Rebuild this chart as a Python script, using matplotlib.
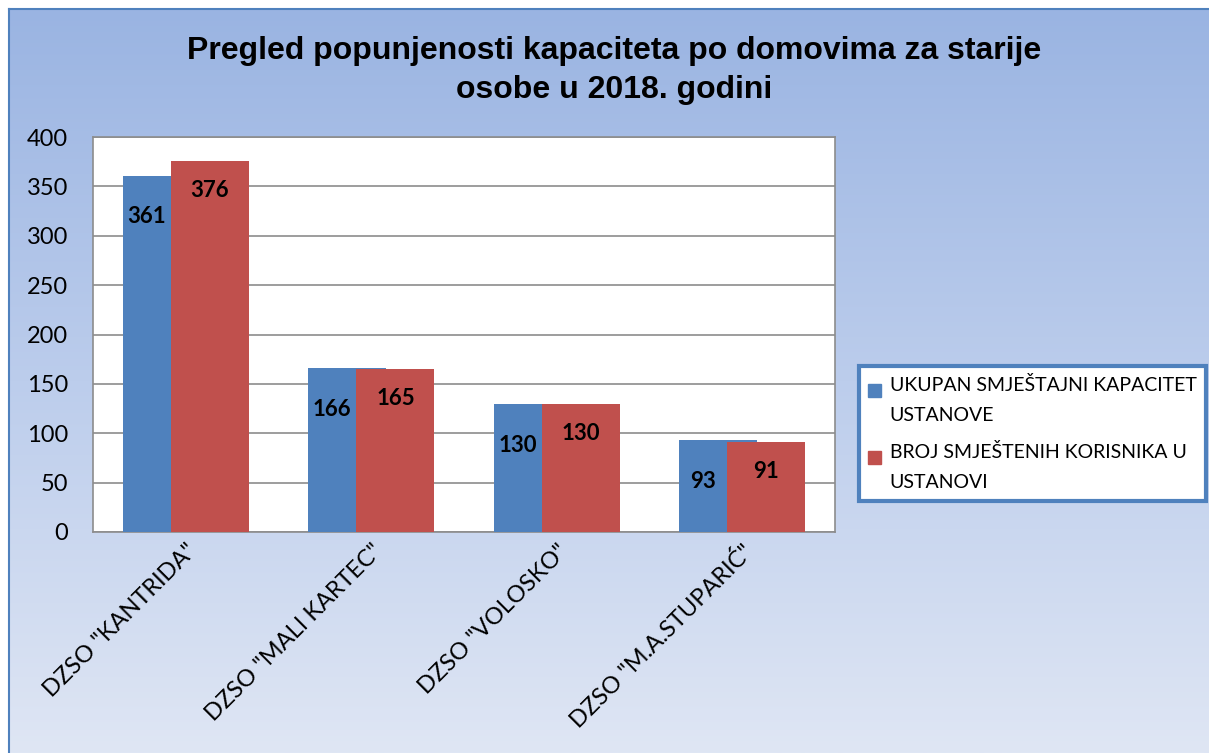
import numpy as np
import matplotlib.pyplot as plt
from matplotlib.colors import LinearSegmentedColormap
from matplotlib.patches import Rectangle
from matplotlib.legend_handler import HandlerPatch

categories = ['DZSO "KANTRIDA"', 'DZSO "MALI KARTEC"', 'DZSO "VOLOSKO"', 'DZSO "M.A.STUPARIĆ"']
kapacitet = [361, 166, 130, 93]
korisnici = [376, 165, 130, 91]
series_names = ['UKUPAN SMJEŠTAJNI KAPACITET\nUSTANOVE',
                'BROJ SMJEŠTENIH KORISNIKA U\nUSTANOVI']
title = 'Pregled popunjenosti kapaciteta po domovima za starije\nosobe u 2018. godini'

blue = '#4f81bd'
red = '#c0504d'
txt_font = ['Lato', 'DejaVu Sans']

fig = plt.figure(figsize=(12.09, 7.53), dpi=100)
fig.patch.set_facecolor('white')

# gradient background of the chart area
bg = fig.add_axes([9/1209, 0, 1 - 9/1209, 1 - 9/753], zorder=-10)
cmap = LinearSegmentedColormap.from_list('bg', ['#9ab4e2', '#bccdec', '#dfe6f4'])
bg.imshow(np.linspace(0, 1, 256).reshape(-1, 1), aspect='auto', cmap=cmap,
          extent=[0, 1, 0, 1], origin='upper')
bg.set_xlim(0, 1)
bg.set_ylim(0, 1)
bg.set_xticks([])
bg.set_yticks([])
for side in ['right', 'bottom']:
    bg.spines[side].set_visible(False)
for side in ['left', 'top']:
    bg.spines[side].set_color('#4f81bd')
    bg.spines[side].set_linewidth(1.5)

ax = fig.add_axes([93/1209, 1 - 532/753, (835 - 93)/1209, (532 - 137)/753])
ax.set_facecolor('white')
x = np.arange(len(categories))
w = 0.42
off = 0.13
ax.bar(x - off, kapacitet, w, color=blue, zorder=3)
ax.bar(x + off, korisnici, w, color=red, zorder=4)

for xi, v in zip(x, kapacitet):
    ax.text(xi - 0.21, v - 42, str(v), ha='center', va='center', fontsize=16,
            fontweight='bold', family=txt_font, zorder=5)
for xi, v in zip(x, korisnici):
    ax.text(xi + off, v - 30, str(v), ha='center', va='center', fontsize=16,
            fontweight='bold', family=txt_font, zorder=5)

ax.set_xlim(-0.5, 3.5)
ax.set_ylim(0, 400)
ax.set_yticks(range(0, 401, 50))
ax.yaxis.grid(True, color='#8c8c8c', linewidth=1.2, zorder=0)
ax.set_axisbelow(True)
for s in ax.spines.values():
    s.set_color('#8c8c8c')
    s.set_linewidth(1.2)
ax.tick_params(axis='y', length=0, pad=18, labelsize=17)
ax.tick_params(axis='x', length=0, pad=6, labelsize=17)
ax.set_xticks(x)
ax.set_xticklabels(categories, rotation=45, ha='right', rotation_mode='anchor',
                   family=txt_font)
for lab in ax.get_yticklabels():
    lab.set_family(txt_font)

fig.text(0.508, 0.906, title, ha='center', va='center', fontsize=23,
         fontweight='bold', family=['Liberation Sans', 'DejaVu Sans'], linespacing=1.4)


# legend square sits next to the first line of a two-line label
def top_square(legend, orig_handle, xdescent, ydescent, width, height, fontsize):
    sq = width
    return Rectangle((-xdescent, -ydescent + height - sq * 1.2), width, sq)


proxies = [Rectangle((0, 0), 1, 1, color=blue), Rectangle((0, 0), 1, 1, color=red)]
leg = fig.legend(proxies, series_names, loc='center',
                 bbox_to_anchor=(862/1209, 1 - 505/753, 341/1209, 143/753),
                 fancybox=False, framealpha=1, edgecolor=blue, handlelength=0.65,
                 handleheight=2.7, handletextpad=0.45, labelspacing=1.0,
                 prop={'family': txt_font, 'size': 14}, borderpad=0.5,
                 handler_map={Rectangle: HandlerPatch(patch_func=top_square)})
leg.get_frame().set_linewidth(3)
for t in leg.texts:
    t.set_linespacing(1.9)

fig.savefig('out.png', dpi=100)
